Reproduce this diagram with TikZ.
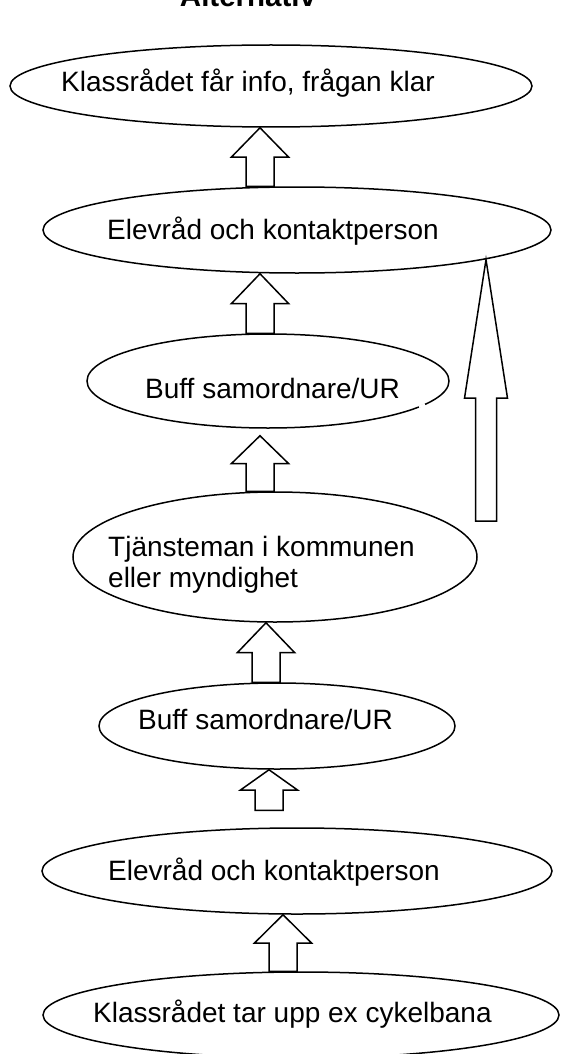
\documentclass[tikz,border=0pt]{standalone}
\usepackage{fontspec}
\setmainfont{Liberation Sans}
\usepackage{tikz}
\usetikzlibrary{calc, shapes.geometric}

\tikzset{
	bubble/.style={draw = black, ellipse, line width=1.5pt, inner sep=0pt},
	txt/.style={anchor=base west, inner sep=0pt, font=\fontsize{28}{31}\selectfont},
	blk/.style={draw = black, line width=1.5pt}
}

\newcommand{\blockarr}[5]{%
	\draw[blk] let \p1=(#1), \p2=(#2), \n1={\y1+(\y2-\y1)*(1-#3)} in
		(\x1-#5,\y1) -- (\x1-#5,\n1) -- (\x1-#4,\n1) -- (\x2,\y2) -- (\x1+#4,\n1) -- (\x1+#5,\n1) -- (\x1+#5,\y1) -- cycle;}

\begin{document}
\begin{tikzpicture}[x=1pt, y=-1pt]
			\useasboundingbox (0,0) rectangle (564,1054);
			\node (T) [anchor=base, inner sep=0pt, font=\bfseries\fontsize{29.5}{31}\selectfont] at (248,7){Alternativ};
			
			\node (A) [bubble, minimum width=522pt, minimum height=82pt] at (271,86){};
			\node (B) [bubble, minimum width=508pt, minimum height=86pt] at (297,230){};
			\node (C) [bubble, minimum width=362pt, minimum height=94pt] at (268,381){};
			\node (D) [bubble, minimum width=404pt, minimum height=130pt] at (275,557){};
			\node (E) [bubble, minimum width=356pt, minimum height=86pt] at (277,726){};
			\node (F) [bubble, minimum width=510pt, minimum height=86pt] at (297,871){};
			\node (G) [bubble, minimum width=516pt, minimum height=86pt] at (301,1015){};
			
			\node (a) [txt] at (61,92){Klassrådet får info, frågan klar};
			\node (b) [txt] at (107,239){Elevråd och kontaktperson};
			\node (c) [txt] at (145,398){Buff samordnare/UR};
			\node (d) [txt, anchor=west, align=left] at (108,565){Tjänsteman i kommunen\\eller myndighet};
			\node (e) [txt] at (138,729){Buff samordnare/UR};
			\node (f) [txt] at (108,880){Elevråd och kontaktperson};
			\node (g) [txt] at (93,1022){Klassrådet tar upp ex cykelbana};
			
			\draw[white, line width=2.5pt] (419,407) -- (425,404.5);
			
			\coordinate (Ctip) at ($(C.south -| 260,0)+(0,7)$);
			\coordinate (Ftop) at ($(F.north -| 269,0)+(0,-17)$);
			\coordinate (big) at (486,521);
			
			\blockarr{B.north -| 260,0}{A.south -| 260,0}{.5}{28.5pt}{14pt}
			\blockarr{C.north -| 260,0}{B.south -| 260,0}{.5}{28.5pt}{14pt}
			\blockarr{D.north -| 260,0}{Ctip}{.5}{28.5pt}{14pt}
			\blockarr{E.north -| 266,0}{D.south -| 266,0}{.5}{28.5pt}{14pt}
			\blockarr{Ftop}{E.south -| 269,0}{.5}{28.5pt}{14pt}
			\blockarr{G.north -| 283,0}{F.south -| 283,0}{.5}{28.5pt}{14pt}
			\blockarr{big}{big |- B.351}{.53}{21.5pt}{10.5pt}
		\end{tikzpicture}
\end{document}
